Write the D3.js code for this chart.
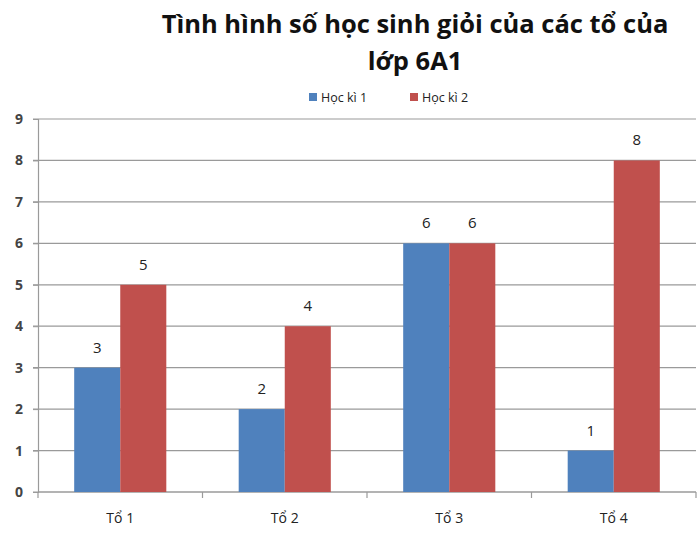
<!DOCTYPE html>
<html>
<head>
<meta charset="utf-8">
<script src="https://cdn.jsdelivr.net/npm/d3@7"></script>
<style>
  body { margin: 0; background: #fff; }
  svg { display: block; }
</style>
</head>
<body>
<svg id="chart" width="700" height="539"></svg>
<script>
// Chart data
const categories = ["Tổ 1", "Tổ 2", "Tổ 3", "Tổ 4"];
const seriesNames = ["Học kì 1", "Học kì 2"];
const hk1Values = [3, 2, 6, 1];
const hk2Values = [5, 4, 6, 8];
const yTicks = [0, 1, 2, 3, 4, 5, 6, 7, 8, 9];
const titleLines = ["Tình hình số học sinh giỏi của các tổ của", "lớp 6A1"];
const colors = ["#4F81BD", "#C0504D"];

const series = [hk1Values, hk2Values];
const svg = d3.select("#chart");
const fontFam = "'Open Sans', 'Noto Sans', sans-serif";

const plot = { left: 38, right: 696, top: 119, bottom: 492 };

const x = d3.scaleBand().domain(categories).range([plot.left, plot.right]).paddingInner(0.44).paddingOuter(0.22);
const xs = d3.scaleBand().domain(d3.range(seriesNames.length)).range([0, x.bandwidth()]);
const y = d3.scaleLinear().domain([0, 9]).range([plot.bottom, plot.top]);

// Title
svg.append("g").selectAll("text").data(titleLines).join("text")
  .attr("x", 415).attr("y", (d, i) => 33 + i * 37)
  .attr("text-anchor", "middle")
  .attr("font-family", fontFam).attr("font-weight", "bold").attr("font-size", 25.5)
  .attr("fill", "#111")
  .text(d => d);

// Gridlines
svg.append("g").selectAll("line").data(yTicks).join("line")
  .attr("x1", plot.left - 5).attr("x2", plot.right)
  .attr("y1", d => y(d)).attr("y2", d => y(d))
  .attr("stroke", "#9a9a9a").attr("stroke-width", 1.2);

// Y axis
const yAxis = svg.append("g").attr("transform", `translate(${plot.left},0)`)
  .call(d3.axisLeft(y).tickValues(yTicks).tickSize(5).tickPadding(10));
yAxis.select(".domain").attr("stroke", "#9a9a9a").attr("stroke-width", 1.2);
yAxis.selectAll(".tick line").attr("stroke", "#9a9a9a");
yAxis.selectAll("text").attr("font-family", fontFam).attr("font-size", 14)
  .attr("font-weight", "bold").attr("fill", "#444");

// X axis with ticks between categories
const xAxisG = svg.append("g").attr("transform", `translate(0,${plot.bottom})`);
xAxisG.append("line").attr("x1", plot.left).attr("x2", plot.right)
  .attr("stroke", "#9a9a9a").attr("stroke-width", 1.2);
const boundaries = categories.map(c => x(c) - x.step() * x.paddingInner() / 2 - (categories.indexOf(c) === 0 ? x.step() * (x.paddingOuter() - x.paddingInner() / 2) : 0));
boundaries.push(plot.right);
xAxisG.selectAll("line.tk").data(boundaries).join("line").attr("class", "tk")
  .attr("x1", d => d).attr("x2", d => d).attr("y1", 0).attr("y2", 6)
  .attr("stroke", "#9a9a9a").attr("stroke-width", 1.2);
xAxisG.selectAll("text").data(categories).join("text")
  .attr("x", d => x(d) + x.bandwidth() / 2).attr("y", 31)
  .attr("text-anchor", "middle")
  .attr("font-family", fontFam).attr("font-size", 14).attr("fill", "#222")
  .text(d => d);

// Bars
const groups = svg.append("g").selectAll("g").data(categories).join("g")
  .attr("transform", d => `translate(${x(d)},0)`);
groups.selectAll("rect").data((c, ci) => series.map((s, si) => ({ si, v: s[ci] }))).join("rect")
  .attr("x", d => xs(d.si)).attr("width", xs.bandwidth())
  .attr("y", d => y(d.v)).attr("height", d => y(0) - y(d.v))
  .attr("fill", d => colors[d.si]);
groups.selectAll("text").data((c, ci) => series.map((s, si) => ({ si, v: s[ci] }))).join("text")
  .attr("x", d => xs(d.si) + xs.bandwidth() / 2).attr("y", d => y(d.v) - 15)
  .attr("text-anchor", "middle")
  .attr("font-family", fontFam).attr("font-size", 15).attr("fill", "#222")
  .text(d => d.v);

// Legend
const legendPos = [309, 410];
const legend = svg.append("g").selectAll("g").data(seriesNames).join("g")
  .attr("transform", (d, i) => `translate(${legendPos[i]},98)`);
legend.append("rect").attr("x", 0).attr("y", -5).attr("width", 8).attr("height", 8)
  .attr("fill", (d, i) => colors[i]);
legend.append("text").attr("x", 12).attr("y", 4)
  .attr("font-family", fontFam).attr("font-size", 12.5).attr("fill", "#222")
  .text(d => d);
</script>
</body>
</html>
